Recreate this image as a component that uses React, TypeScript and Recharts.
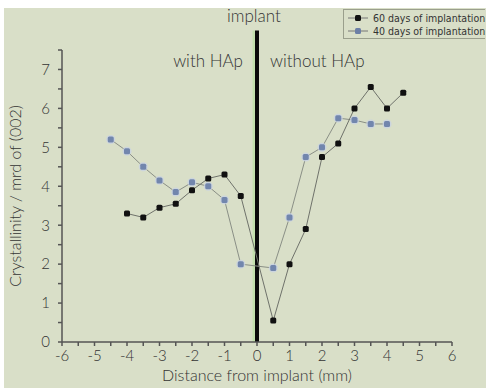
import { LineChart, Line, XAxis, YAxis, ReferenceLine } from "recharts";

const days60X = [-4, -3.5, -3, -2.5, -2, -1.5, -1, -0.5, 0.5, 1, 1.5, 2, 2.5, 3, 3.5, 4, 4.5];
const days60Y = [3.3, 3.2, 3.45, 3.55, 3.9, 4.2, 4.3, 3.75, 0.55, 2.0, 2.9, 4.75, 5.1, 6.0, 6.55, 6.0, 6.4];

const days40X = [-4.5, -4, -3.5, -3, -2.5, -2, -1.5, -1, -0.5, 0.5, 1, 1.5, 2, 2.5, 3, 3.5, 4];
const days40Y = [5.2, 4.9, 4.5, 4.15, 3.85, 4.1, 4.0, 3.65, 2.0, 1.9, 3.2, 4.75, 5.0, 5.75, 5.7, 5.6, 5.6];

const xTicks = [-6, -5.5, -5, -4.5, -4, -3.5, -3, -2.5, -2, -1.5, -1, -0.5, 0, 0.5, 1, 1.5, 2, 2.5, 3, 3.5, 4, 4.5, 5, 5.5, 6];
const yTicks = [0, 0.5, 1, 1.5, 2, 2.5, 3, 3.5, 4, 4.5, 5, 5.5, 6, 6.5, 7, 7.5];

const series60 = days60X.map((x, i) => ({ x, y: days60Y[i] }));
const series40 = days40X.map((x, i) => ({ x, y: days40Y[i] }));

const FONT = "Lato, 'Open Sans', sans-serif";
const TEXT = "#333";
const BG = "#d9dfc8";

const intOnly = (v: number) => (Number.isInteger(v) ? String(v) : "");

function BlackDot(props: any) {
  const { cx, cy } = props;
  if (cx == null || cy == null) return null;
  return <rect x={cx - 3} y={cy - 3} width={6} height={6} rx={1.5} fill="#111" />;
}

function BlueDot(props: any) {
  const { cx, cy } = props;
  if (cx == null || cy == null) return null;
  return (
    <g>
      <circle cx={cx} cy={cy} r={4.5} fill="#c8d2e4" opacity={0.8} />
      <rect x={cx - 3} y={cy - 3} width={6} height={6} rx={1.5} fill="#7286ad" />
    </g>
  );
}

function LegendBox() {
  const row = (label: string, color: string) => (
    <div style={{ display: "flex", alignItems: "center", height: 13 }}>
      <svg width={24} height={10}>
        <line x1={2} y1={5} x2={22} y2={5} stroke="#777" strokeWidth={1} />
        <rect x={9} y={2} width={6} height={6} rx={1.5} fill={color} />
      </svg>
      <span style={{ marginLeft: 3 }}>{label}</span>
    </div>
  );
  return (
    <div
      style={{
        position: "absolute",
        left: 343,
        top: 9,
        border: "1px solid #9a9f8c",
        borderRight: "none",
        padding: "1px 0 1px 2px",
        whiteSpace: "nowrap",
        fontFamily: "'Liberation Sans Narrow', 'DejaVu Sans Condensed', sans-serif",
        fontSize: 10.5,
        color: TEXT,
        background: BG,
      }}
    >
      {row("60 days of implantation", "#111")}
      {row("40 days of implantation", "#6c7fa6")}
    </div>
  );
}

export default function App() {
  return (
    <div style={{ position: "absolute", left: 0, top: 0, width: 486, height: 390, background: "#fff", overflow: "hidden" }}>
      <div style={{ position: "absolute", left: 4, top: 8, width: 482, height: 380, background: BG }} />
      <LineChart
        width={486}
        height={390}
        margin={{ top: 50, right: 34, bottom: 16, left: 22 }}
        style={{ position: "absolute", left: 0, top: 0, fontFamily: FONT }}
      >
        <XAxis
          type="number"
          dataKey="x"
          domain={[-6, 6]}
          ticks={xTicks}
          tickFormatter={intOnly}
          interval={0}
          stroke="#555"
          strokeWidth={1.5}
          tickSize={4}
          tickMargin={4}
          height={32}
          tick={{ fill: TEXT, fontSize: 15, fontWeight: 300 }}
          label={{ value: "Distance from implant (mm)", position: "insideBottom", offset: -7, fill: TEXT, fontSize: 16, fontWeight: 300 }}
        />
        <YAxis
          type="number"
          dataKey="y"
          domain={[0, 7.5]}
          ticks={yTicks}
          tickFormatter={intOnly}
          interval={0}
          stroke="#555"
          strokeWidth={1.5}
          tickSize={4}
          tickMargin={8}
          width={40}
          tick={{ fill: TEXT, fontSize: 15, fontWeight: 300 }}
          label={{
            value: "Crystallinity / mrd of (002)",
            angle: -90,
            position: "insideLeft",
            offset: -7,
            style: { textAnchor: "middle" },
            fill: TEXT,
            fontSize: 16,
            fontWeight: 300,
          }}
        />
        <ReferenceLine
          segment={[{ x: -0.09, y: 0 }, { x: -0.09, y: 8 }]}
          ifOverflow="visible"
          stroke="#c3e0ad"
          strokeWidth={3}
        />
        <ReferenceLine
          segment={[{ x: 0, y: 0 }, { x: 0, y: 8 }]}
          ifOverflow="visible"
          stroke="#0a0a0a"
          strokeWidth={4}
        />
        <Line
          data={series40}
          dataKey="y"
          name="40 days of implantation"
          stroke="#8a8f86"
          strokeWidth={1}
          dot={<BlueDot />}
          isAnimationActive={false}
        />
        <Line
          data={series60}
          dataKey="y"
          name="60 days of implantation"
          stroke="#6f726b"
          strokeWidth={1}
          dot={<BlackDot />}
          isAnimationActive={false}
        />
      </LineChart>
      <LegendBox />
      <div style={{ position: "absolute", left: 227, top: 5, fontFamily: FONT, fontWeight: 300, fontSize: 17, color: TEXT }}>implant</div>
      <div style={{ position: "absolute", right: 243, top: 50, fontFamily: FONT, fontWeight: 300, fontSize: 17, color: TEXT }}>with HAp</div>
      <div style={{ position: "absolute", left: 270, top: 50, fontFamily: FONT, fontWeight: 300, fontSize: 17, color: TEXT }}>without HAp</div>
    </div>
  );
}
